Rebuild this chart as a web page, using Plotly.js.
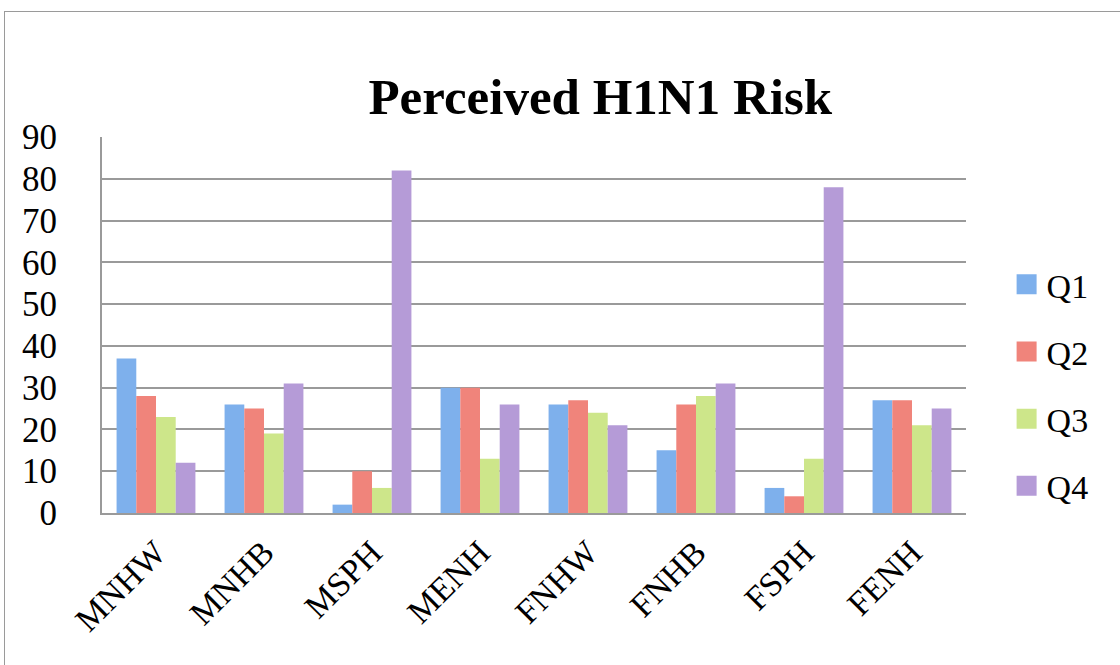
<!DOCTYPE html>
<html>
<head>
<meta charset="utf-8">
<script src="https://cdn.plot.ly/plotly-3.0.1.min.js"></script>
<style>
  html, body { margin: 0; padding: 0; background: #fff; }
  #wrap { position: relative; width: 1120px; height: 665px; overflow: hidden; }
  #frame { position: absolute; left: 4px; top: 11px; width: 1130px; height: 670px; border: 1.5px solid #9a9a9a; box-sizing: border-box; }
  #chart { position: absolute; left: 0; top: 0; width: 1120px; height: 665px; }
</style>
</head>
<body>
<div id="wrap">
  <div id="frame"></div>
  <div id="chart"></div>
</div>
<script>
const categories = ["MNHW", "MNHB", "MSPH", "MENH", "FNHW", "FNHB", "FSPH", "FENH"];
const seriesNames = ["Q1", "Q2", "Q3", "Q4"];
const q1 = [37, 26, 2, 30, 26, 15, 6, 27];
const q2 = [28, 25, 10, 30, 27, 26, 4, 27];
const q3 = [23, 19, 6, 13, 24, 28, 13, 21];
const q4 = [12, 31, 82, 26, 21, 31, 78, 25];
const yTicks = [0, 10, 20, 30, 40, 50, 60, 70, 80, 90];

const colors = ["#7eb0ec", "#f0847b", "#cde68a", "#b59bd7"];
const values = [q1, q2, q3, q4];
const font = "'Liberation Serif', 'DejaVu Serif', serif";

const data = values.map((v, i) => ({
  type: "bar",
  x: categories,
  y: v,
  name: seriesNames[i],
  legendgroup: seriesNames[i],
  marker: { color: colors[i], line: { width: 0 } },
  hoverinfo: "x+y+name"
}));

const layout = {
  width: 1120,
  height: 665,
  paper_bgcolor: "rgba(0,0,0,0)",
  plot_bgcolor: "rgba(0,0,0,0)",
  margin: { l: 102, r: 154, t: 137, b: 152 },
  barmode: "group",
  bargap: 0.27,
  bargroupgap: 0,
  title: {
    text: "<b>Perceived H1N1 Risk</b>",
    font: { family: font, size: 51, color: "#000" },
    x: 0.536, xanchor: "center",
    y: 0.855, yanchor: "middle"
  },
  font: { family: font, color: "#000" },
  xaxis: {
    type: "category",
    tickangle: -45,
    tickfont: { family: font, size: 34, color: "#000" },
    showgrid: false,
    showline: true,
    linecolor: "#9a9a9a",
    linewidth: 2,
    ticks: "",
    ticklabelstandoff: 4
  },
  yaxis: {
    range: [0, 90],
    tickvals: yTicks,
    ticktext: yTicks.map(String),
    tickfont: { family: font, size: 35, color: "#000" },
    showgrid: true,
    gridcolor: "#9a9a9a",
    gridwidth: 2,
    showline: true,
    linecolor: "#9a9a9a",
    linewidth: 2,
    zeroline: false,
    ticks: "",
    ticklabelstandoff: 36
  },
  showlegend: true,
  legend: {
    x: 1.047, xanchor: "left",
    y: 0.34, yanchor: "middle",
    font: { family: font, size: 34, color: "#000" },
    traceorder: "grouped",
    tracegroupgap: 20,
    bgcolor: "rgba(0,0,0,0)"
  }
};

Plotly.newPlot("chart", data, layout, { displayModeBar: false, staticPlot: true }).then(gd => {
  gd.querySelectorAll(".legendpoints path").forEach(p => {
    p.setAttribute("d", "M10,10H-10V-10H10Z");
    p.setAttribute("transform", "translate(20,0)");
  });
});
</script>
</body>
</html>
